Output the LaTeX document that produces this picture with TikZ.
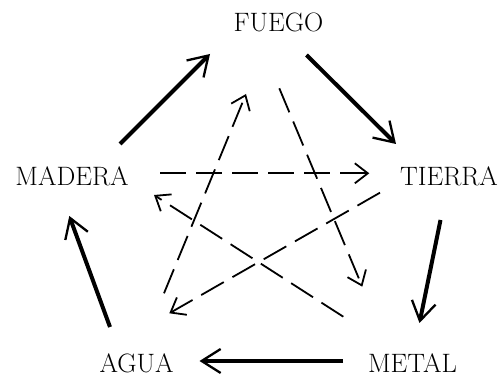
\documentclass[tikz,border=0pt]{standalone}
\usepackage{amsmath}
\usepackage{tikz}
\usetikzlibrary{arrows.meta,calc}

\begin{document}
\begin{tikzpicture}[x=1pt, y=1pt,
    elem/.style={font=\fontsize{26.6pt}{30pt}\selectfont, inner sep=0pt, text height=18.2pt, text depth=0pt},
    gen/.style={line width=4pt, -{Straight Barb[length=19pt, width=24pt, line width=2.3pt]}},
    ctrl/.style={line width=1.8pt, dash pattern=on 26pt off 10pt, -{Straight Barb[length=13pt, width=20pt, line width=1.8pt]}}]
    \useasboundingbox (0,0) rectangle (503,382);
    \node[elem] (fuego) at (278.5,359.5) {FUEGO};
    \node[elem] (tierra) at (449,206) {TIERRA};
    \node[elem] (metal) at (412.5,19) {METAL};
    \node[elem] (agua) at (136.5,19) {AGUA};
    \node[elem] (madera) at (72,206) {MADERA};

    % outer cycle
    \path[gen]
        ($(madera)+(48,32)$) edge ($(fuego)+(-68.5,-31.5)$)
        ($(fuego)+(28,-32.5)$) edge ($(tierra)+(-53,32)$)
        ($(tierra)+(-8.5,-44)$) edge ($(metal)+(7,40)$)
        ($(metal)+(-69.5,2)$) edge ($(agua)+(63,2)$)
        ($(agua)+(-26.5,36)$) edge ($(madera)+(-2.7,-40)$);

    % inner star
    \path[ctrl]
        ($(madera)+(88,2.7)$) edge ($(tierra)+(-79.7,2.7)$)
        ($(tierra)+(-69,-16.7)$) edge ($(agua)+(32.8,49.7)$)
        ($(agua)+(27.5,69.7)$) edge ($(fuego)+(-32.5,-71.5)$)
        ($(fuego)+(0.8,-65.8)$) edge ($(metal)+(-50.2,76.3)$)
        ($(metal)+(-69.2,46.3)$) edge ($(madera)+(82,-19)$);
\end{tikzpicture}
\end{document}
